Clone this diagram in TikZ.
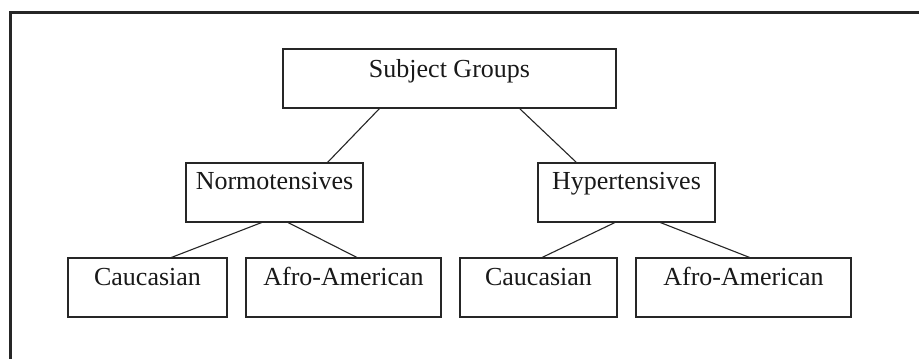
\documentclass[tikz,border=0pt]{standalone}
\usepackage{fontspec}
\setmainfont{Liberation Serif}
\begin{document}
\begin{tikzpicture}[x=1pt,y=-1pt,
  box/.style={draw=black!85, line width=1.2pt, inner sep=0pt, outer sep=0pt, rectangle},
  lbl/.style={anchor=base, inner sep=0pt, font=\fontsize{26}{30}\selectfont, text=black!90},
  conn/.style={draw=black!85, line width=1.1pt}]
\useasboundingbox (0,0) rectangle (919,359);
\fill[white] (0,0) rectangle (919,359);
% frame
\coordinate (ftl) at (10,12);
\coordinate (ftr) at (919,12);
\coordinate (fbl) at (10,359);
\draw[line width=3pt, black!85] (fbl) -- (ftl) -- (ftr);
% boxes
\node[box, minimum width=333pt, minimum height=59pt] (sg) at (449.5,78.5) {};
\node[box, minimum width=177pt, minimum height=59pt] (nt) at (274.5,192.5) {};
\node[box, minimum width=177pt, minimum height=59pt] (ht) at (626.5,192.5) {};
\node[box, minimum width=159pt, minimum height=59pt] (cl) at (147.5,287.5) {};
\node[box, minimum width=195pt, minimum height=59pt] (al) at (343.5,287.5) {};
\node[box, minimum width=157pt, minimum height=59pt] (cr) at (538.5,287.5) {};
\node[box, minimum width=215pt, minimum height=59pt] (ar) at (743.5,287.5) {};
% labels
\node[lbl] (sgt) at ([yshift=-28pt]sg.north) {Subject Groups};
\node[lbl] (ntt) at ([yshift=-26pt]nt.north) {Normotensives};
\node[lbl] (htt) at ([yshift=-26pt]ht.north) {Hypertensives};
\node[lbl] (clt) at ([yshift=-27pt]cl.north) {Caucasian};
\node[lbl] (alt) at ([yshift=-27pt]al.north) {Afro-American};
\node[lbl] (crt) at ([yshift=-27pt]cr.north) {Caucasian};
\node[lbl] (art) at ([yshift=-27pt]ar.north) {Afro-American};
% connectors
\draw[conn] ([xshift=-69.5pt]sg.south) -- ([xshift=52.5pt]nt.north);
\draw[conn] ([xshift=69.5pt]sg.south) -- ([xshift=-49.5pt]ht.north);
\draw[conn] ([xshift=-11.5pt]nt.south) -- ([xshift=22.5pt]cl.north);
\draw[conn] ([xshift=12.5pt]nt.south) -- ([xshift=14.5pt]al.north);
\draw[conn] ([xshift=-10.5pt]ht.south) -- ([xshift=2.5pt]cr.north);
\draw[conn] ([xshift=32.5pt]ht.south) -- ([xshift=7.5pt]ar.north);
\end{tikzpicture}
\end{document}
